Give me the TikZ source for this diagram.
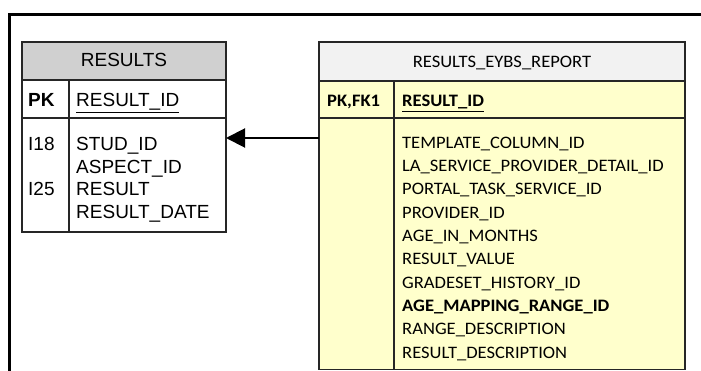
\documentclass[tikz,border=0pt]{standalone}
\usepackage{fontspec}
\setmainfont{Liberation Sans}
\newfontfamily\calfont[FakeStretch=1.06]{Carlito}
\usetikzlibrary{arrows.meta}

\definecolor{hdrgray}{HTML}{D0D0D0}
\definecolor{hdrlight}{HTML}{F2F2F2}
\definecolor{rowyellow}{HTML}{FFFFCC}

\begin{document}
\begin{tikzpicture}[x=1pt, y=-1pt,
    tbl/.style={draw=black!85, line width=1.1pt},
    arialtxt/.style={anchor=base west, inner sep=0pt, font=\fontsize{19}{22}\selectfont},
    calibtxt/.style={anchor=base west, inner sep=0pt, font=\calfont\fontsize{17.5}{21}\selectfont}]
    \useasboundingbox (0, 0) rectangle (701, 371);
    \draw [line width=2.5pt] (9.7, 371) |- (701, 14.7);

    % RESULTS
    \filldraw [tbl, fill=hdrgray] (22, 42) rectangle (226, 80);
    \draw [tbl] (22, 80) rectangle (226, 232);
    \draw [tbl] (22, 118) -- (226, 118);
    \draw [tbl] (69, 80) -- (69, 232);
    \node [arialtxt, anchor=base] (res-title) at (124, 67) {RESULTS};
    \node [arialtxt] (res-pk) at (28, 107) {\textbf{PK}};
    \node [arialtxt] (res-key) at (76, 107) {\underline{RESULT\_ID}};
    \node [arialtxt] (res-i18) at (28, 151) {I18};
    \node [arialtxt] (res-i25) at (28, 196) {I25};
    \foreach \f [count=\i] in {STUD\_ID, ASPECT\_ID, RESULT, RESULT\_DATE}
        \node [arialtxt] (res-f\i) at (76, 128.5 + 22.5*\i) {\f};

    % RESULTS_EYBS_REPORT
    \filldraw [tbl, fill=hdrlight] (319, 42) rectangle (685, 81);
    \filldraw [tbl, fill=rowyellow] (319, 81) rectangle (685, 369.5);
    \draw [tbl] (319, 118) -- (685, 118);
    \draw [tbl] (394, 81) -- (394, 369.5);
    \node [calibtxt, anchor=base] (rep-title) at (502, 68) {RESULTS\_EYBS\_REPORT};
    \node [calibtxt] (rep-pk) at (327, 107) {\textbf{PK,FK1}};
    \node [calibtxt] (rep-key) at (402, 107) {\textbf{\underline{RESULT\_ID}}};
    \foreach \f [count=\i] in {TEMPLATE\_COLUMN\_ID, LA\_SERVICE\_PROVIDER\_DETAIL\_ID,
            PORTAL\_TASK\_SERVICE\_ID, PROVIDER\_ID, AGE\_IN\_MONTHS, RESULT\_VALUE,
            GRADESET\_HISTORY\_ID, \textbf{AGE\_MAPPING\_RANGE\_ID}, RANGE\_DESCRIPTION,
            RESULT\_DESCRIPTION}
        \node [calibtxt] (rep-f\i) at (402, 124.7 + 23.33*\i) {\f};

    \coordinate (rep-in) at (319, 138);
    \coordinate (res-out) at (226, 138);
    \draw [line width=2pt, -{Triangle[length=19pt, width=19pt]}] (rep-in) -- (res-out);

\end{tikzpicture}
\end{document}
